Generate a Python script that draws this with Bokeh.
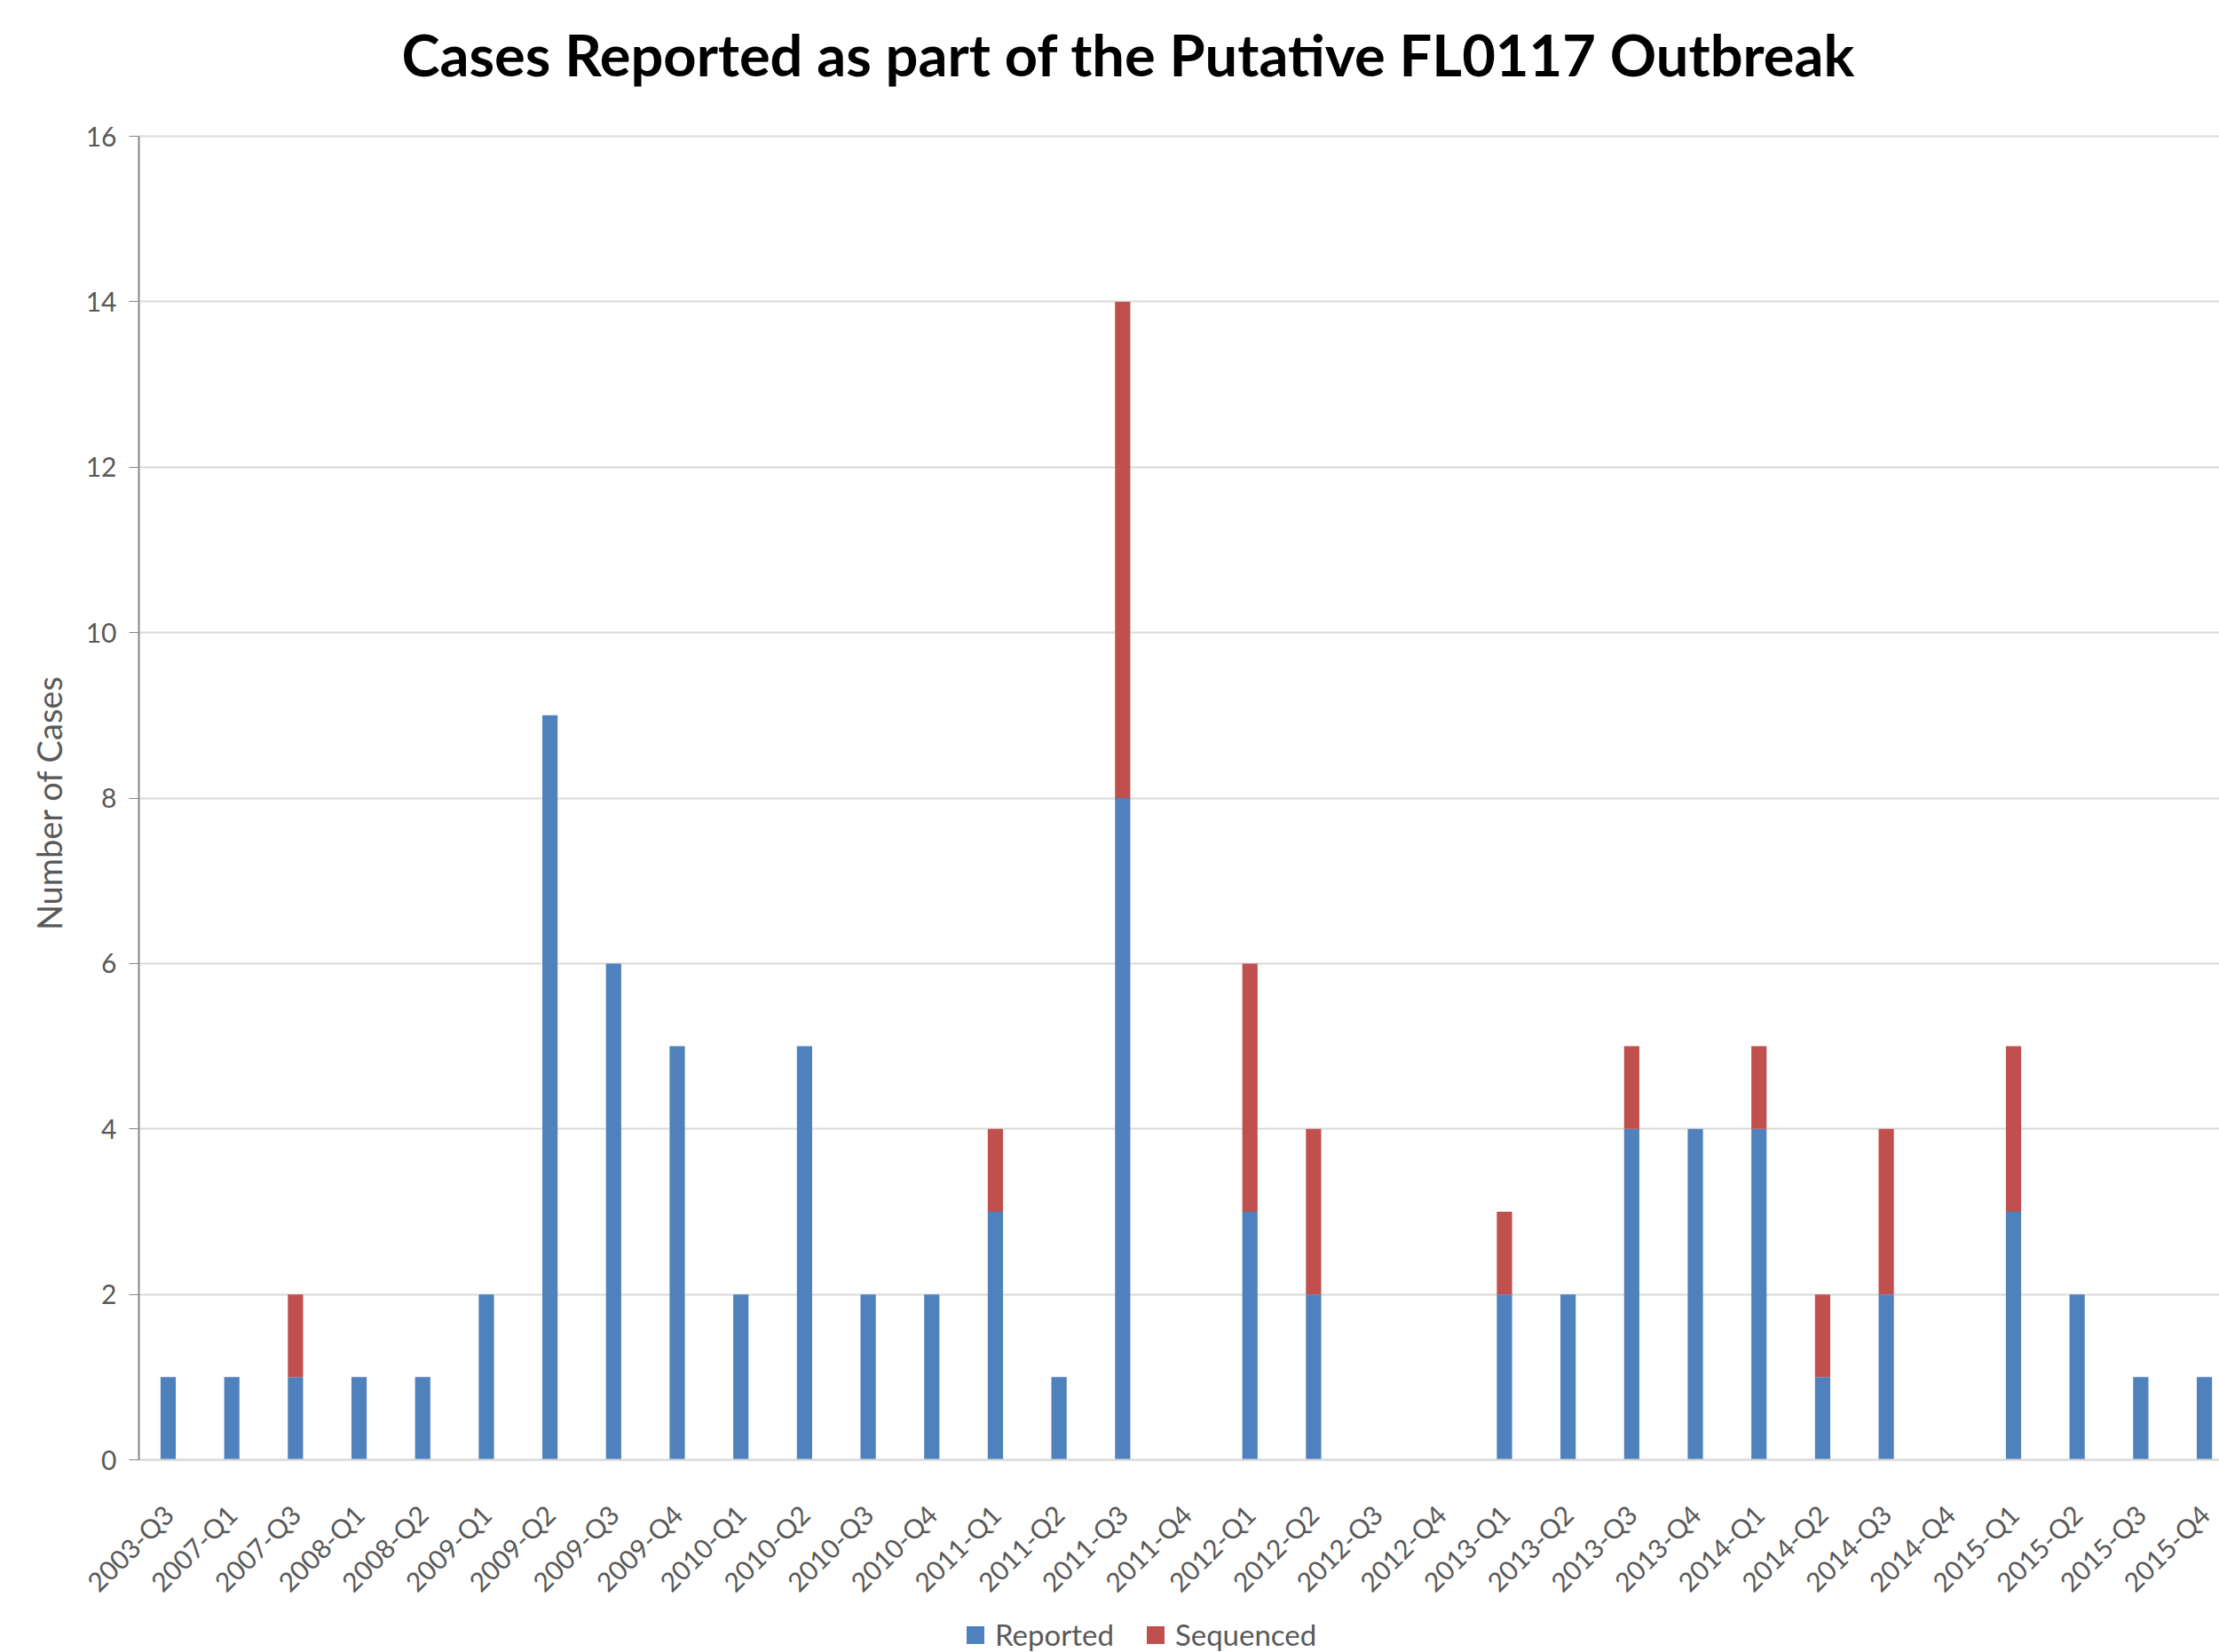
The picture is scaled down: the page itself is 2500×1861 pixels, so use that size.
import math
from bokeh.plotting import figure
from bokeh.models import (ColumnDataSource, Range1d, FixedTicker, Legend, LegendItem, Label)
from bokeh.embed import file_html
from bokeh.resources import INLINE

quarters = ["2003-Q3", "2007-Q1", "2007-Q3", "2008-Q1", "2008-Q2", "2009-Q1", "2009-Q2",
            "2009-Q3", "2009-Q4", "2010-Q1", "2010-Q2", "2010-Q3", "2010-Q4", "2011-Q1",
            "2011-Q2", "2011-Q3", "2011-Q4", "2012-Q1", "2012-Q2", "2012-Q3", "2012-Q4",
            "2013-Q1", "2013-Q2", "2013-Q3", "2013-Q4", "2014-Q1", "2014-Q2", "2014-Q3",
            "2014-Q4", "2015-Q1", "2015-Q2", "2015-Q3", "2015-Q4"]
reported = [1, 1, 1, 1, 1, 2, 9, 6, 5, 2, 5, 2, 2, 3, 1, 8, 0, 3, 2, 0, 0,
            2, 2, 4, 4, 4, 1, 2, 0, 3, 2, 1, 1]
sequenced = [0, 0, 1, 0, 0, 0, 0, 0, 0, 0, 0, 0, 0, 1, 0, 6, 0, 3, 2, 0, 0,
             1, 0, 1, 0, 1, 1, 2, 0, 2, 0, 0, 0]
y_ticks = [0, 2, 4, 6, 8, 10, 12, 14, 16]

FONT = "Lato"
GREY = "#595959"

# layout (pixels) -- the frame covers the whole canvas, axes are pinned inside it
W, H = 2500, 1861
AXIS_PX = 156
PLOT_TOP, PLOT_BOTTOM = 153, 1644
py_per_unit = (PLOT_BOTTOM - PLOT_TOP) / 16.0
y_start = -(H - PLOT_BOTTOM) / py_per_unit
y_end = 16 + PLOT_TOP / py_per_unit
px_per_cat = 71.69
AXIS_X = -0.46
x_start = AXIS_X - AXIS_PX / px_per_cat
x_end = AXIS_X + (W - AXIS_PX) / px_per_cat

idx = list(range(len(quarters)))
source = ColumnDataSource(dict(x=idx, Reported=reported, Sequenced=sequenced))

p = figure(frame_width=W, frame_height=H, output_backend="svg",
           toolbar_location=None,
           x_range=Range1d(x_start, x_end), y_range=Range1d(y_start, y_end),
           min_border_left=0, min_border_right=0, min_border_top=0,
           min_border_bottom=0)
p.outline_line_color = None

# grid
p.xgrid.grid_line_color = None
p.xgrid.visible = False
p.ygrid.ticker = FixedTicker(ticks=y_ticks)
p.ygrid.grid_line_color = "#D9D9D9"
p.ygrid.grid_line_width = 2
try:
    p.ygrid.cross_bounds = (AXIS_X, x_end)
except Exception:
    pass

renderers = p.vbar_stack(["Reported", "Sequenced"], x="x", width=0.24, source=source,
                         color=["#4F81BD", "#C0504D"], line_color=None)

# x axis, pinned at y = 0
p.xaxis.fixed_location = 0
p.xaxis.bounds = (AXIS_X, x_end)
p.xaxis.ticker = FixedTicker(ticks=idx)
p.xaxis.major_label_overrides = {i: q for i, q in enumerate(quarters)}
p.xaxis.major_label_orientation = math.pi / 4
p.xaxis.major_label_text_font = FONT
p.xaxis.major_label_text_font_size = "30px"
p.xaxis.major_label_text_color = GREY
p.xaxis.major_label_standoff = 50
p.xaxis.axis_line_color = "#D9D9D9"
p.xaxis.axis_line_width = 2
p.xaxis.major_tick_line_color = None
p.xaxis.minor_tick_line_color = None

# y axis, pinned at the left edge of the category span
p.yaxis.fixed_location = AXIS_X
p.yaxis.bounds = (0, 16)
p.yaxis.ticker = FixedTicker(ticks=y_ticks)
p.yaxis.major_label_text_font = FONT
p.yaxis.major_label_text_font_size = "30px"
p.yaxis.major_label_text_color = GREY
p.yaxis.major_label_standoff = 14
p.yaxis.axis_line_color = "#868686"
p.yaxis.axis_line_width = 2
p.yaxis.major_tick_line_color = "#868686"
p.yaxis.major_tick_out = 11
p.yaxis.major_tick_in = 0
p.yaxis.minor_tick_line_color = None

# y axis title
p.add_layout(Label(x=54, y=H - 899, x_units="screen", y_units="screen",
                   text="Number  of Cases", angle=math.pi / 2,
                   text_font=FONT, text_font_size="38px", text_color=GREY,
                   text_align="center", text_baseline="middle"))

# chart title
p.add_layout(Label(x=452, y=H - 60, x_units="screen", y_units="screen",
                   text="Cases Reported as part of the Putative FL0117 Outbreak",
                   text_font=FONT, text_font_style="bold", text_font_size="65px",
                   text_color="#000000", text_baseline="alphabetic", text_align="left"))

legend = Legend(items=[LegendItem(label="Reported", renderers=[renderers[0]]),
                       LegendItem(label="Sequenced", renderers=[renderers[1]])],
                orientation="horizontal", location=(1086, 0))
legend.label_text_font = FONT
legend.label_text_font_size = "33px"
legend.label_text_color = GREY
legend.glyph_width = 25
legend.glyph_height = 25
legend.label_standoff = 10
legend.spacing = 34
legend.border_line_color = None
legend.background_fill_alpha = 0
legend.margin = 0
legend.padding = 0
p.add_layout(legend, "center")

open("out.html", "w").write(file_html(p, INLINE))
